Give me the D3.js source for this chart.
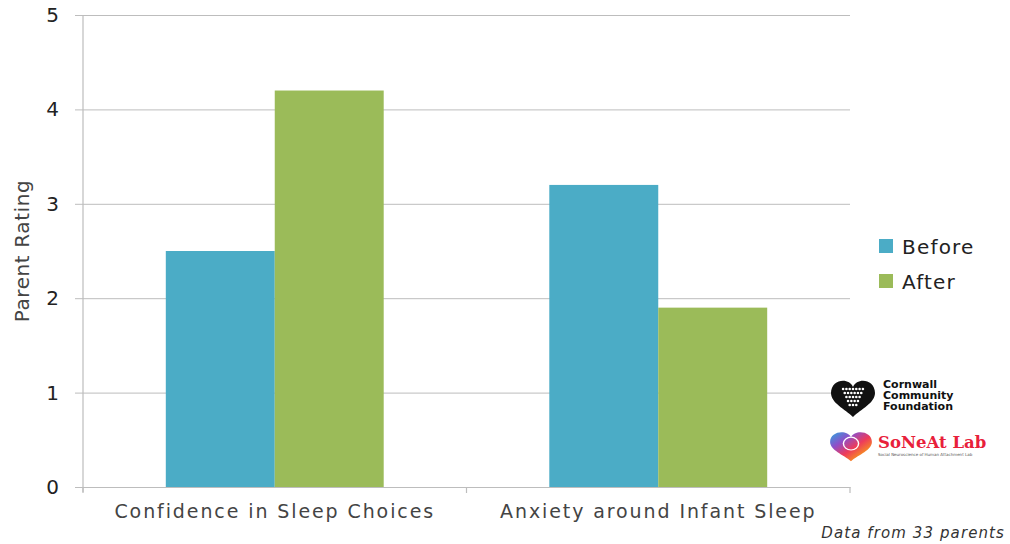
<!DOCTYPE html>
<html>
<head>
<meta charset="utf-8">
<script src="https://cdn.jsdelivr.net/npm/d3@7"></script>
<style>
  html, body { margin: 0; padding: 0; background: #fff; }
  svg { display: block; }
</style>
</head>
<body>
<svg id="chart" width="1010" height="544"></svg>
<script>
// Survey results: parent ratings before and after the sessions
const categories = ["Confidence in Sleep Choices", "Anxiety around Infant Sleep"];
const seriesNames = ["Before", "After"];
const beforeValues = [2.5, 3.2];
const afterValues = [4.2, 1.9];
const yTicks = [0, 1, 2, 3, 4, 5];
const colors = ["#4BACC6", "#9BBB59"];

const svg = d3.select("#chart");
const plotLeft = 83, plotRight = 850, plotTop = 15, plotBottom = 487;

const x = d3.scaleBand().domain(categories).range([plotLeft, plotRight]).paddingInner(0).paddingOuter(0);
const inner = d3.scaleBand().domain(seriesNames).range([0, x.bandwidth()]).paddingInner(0).paddingOuter(0.76);
const y = d3.scaleLinear().domain([0, 5]).range([plotBottom, plotTop]);

const labelFont = "'DejaVu Sans', sans-serif";

// Horizontal gridlines with small outer ticks
const yAxis = d3.axisLeft(y).tickValues(yTicks).tickSize(-(plotRight - plotLeft)).tickPadding(24).tickFormat(d3.format("d"));
const gy = svg.append("g").attr("transform", `translate(${plotLeft},0)`).call(yAxis);
gy.select(".domain").remove();
gy.selectAll(".tick line").attr("stroke", "#bdbdbd").attr("stroke-width", 1).attr("x1", -8);
gy.selectAll(".tick text").attr("fill", "#222").style("font-family", labelFont).style("font-size", "20px");

// Vertical axis line
svg.append("line").attr("x1", plotLeft).attr("x2", plotLeft).attr("y1", plotTop).attr("y2", plotBottom + 5)
  .attr("stroke", "#bdbdbd").attr("stroke-width", 1.2);

// Bars
const rows = categories.map((c, i) => ({ cat: c, vals: [beforeValues[i], afterValues[i]] }));
const groups = svg.append("g").selectAll("g").data(rows).join("g")
  .attr("transform", d => `translate(${x(d.cat)},0)`);
groups.selectAll("rect").data(d => d.vals.map((v, j) => ({ key: seriesNames[j], v, j })))
  .join("rect")
  .attr("x", d => inner(d.key))
  .attr("width", inner.bandwidth())
  .attr("y", d => y(d.v))
  .attr("height", d => y(0) - y(d.v))
  .attr("fill", d => colors[d.j]);

// Category axis
const xAxis = d3.axisBottom(x).tickSize(0).tickPadding(18);
const gx = svg.append("g").attr("transform", `translate(0,${plotBottom})`).call(xAxis);
gx.select(".domain").attr("stroke", "#bdbdbd").attr("stroke-width", 1.2);
gx.selectAll(".tick text").attr("fill", "#444").style("font-family", labelFont).style("font-size", "19px")
  .style("letter-spacing", "1.9px");
// Boundary ticks between categories
const bounds = [plotLeft, plotLeft + x.bandwidth(), plotRight];
svg.append("g").selectAll("line").data(bounds).join("line")
  .attr("x1", d => d).attr("x2", d => d).attr("y1", plotBottom).attr("y2", plotBottom + 6)
  .attr("stroke", "#bdbdbd").attr("stroke-width", 1.2);

// Y axis title
svg.append("text")
  .attr("transform", "translate(29,251) rotate(-90)")
  .attr("text-anchor", "middle")
  .attr("fill", "#444")
  .style("font-family", labelFont).style("font-size", "20px").style("letter-spacing", "0.6px")
  .text("Parent Rating");

// Legend
const legend = svg.append("g").attr("transform", "translate(879,239)");
seriesNames.forEach((s, i) => {
  const g = legend.append("g").attr("transform", `translate(0,${i * 35})`);
  g.append("rect").attr("width", 14).attr("height", 14).attr("fill", colors[i]);
  g.append("text").attr("x", 23).attr("y", 15).attr("fill", "#222")
    .style("font-family", labelFont).style("font-size", "20px").style("letter-spacing", "1.2px").text(s);
});

// Cornwall Community Foundation mark
const heart = "M0,-6 C-4,-16 -22,-14 -22,0 C-22,10 -8,16 0,24 C8,16 22,10 22,0 C22,-14 4,-16 0,-6 Z";
const ccf = svg.append("g").attr("transform", "translate(853,393)");
ccf.append("path").attr("d", heart).attr("fill", "#111");
const dotRows = [[-9,-6,-3,0,3,6,9],[-7.5,-4.5,-1.5,1.5,4.5,7.5],[-6,-3,0,3,6],[-4.5,-1.5,1.5,4.5],[-3,0,3]];
dotRows.forEach((r, ri) => r.forEach(dx => {
  ccf.append("circle").attr("cx", dx * 1.1).attr("cy", -4 + ri * 4).attr("r", 1.3).attr("fill", "#fff");
}));
["Cornwall", "Community", "Foundation"].forEach((t, i) => {
  svg.append("text").attr("x", 883).attr("y", 388 + i * 11).attr("fill", "#111")
    .style("font-family", "'DejaVu Sans', sans-serif").style("font-size", "11px").style("font-weight", "bold")
    .text(t);
});

// SoNeAt Lab mark
const defs = svg.append("defs");
const grad = defs.append("linearGradient").attr("id", "rainbow").attr("x1", "0").attr("x2", "1").attr("y1", "0").attr("y2", "1");
[["0", "#2aa7e0"], ["0.3", "#8e4fc9"], ["0.55", "#ee3b5b"], ["0.8", "#f7941d"], ["1", "#ffd400"]]
  .forEach(([o, c]) => grad.append("stop").attr("offset", o).attr("stop-color", c));
const sl = svg.append("g").attr("transform", "translate(851,442) scale(0.95,0.8)");
sl.append("path").attr("d", heart).attr("fill", "url(#rainbow)");
sl.append("circle").attr("cx", 0).attr("cy", 2).attr("r", 8).attr("fill", "none").attr("stroke", "#fff").attr("stroke-width", 1.5);
svg.append("text").attr("x", 878).attr("y", 448).attr("fill", "#e8203a")
  .style("font-family", "'DejaVu Serif', serif").style("font-size", "16.5px").style("font-weight", "bold")
  .text("SoNeAt Lab");
svg.append("text").attr("x", 878).attr("y", 456).attr("fill", "#555")
  .style("font-family", "'DejaVu Sans', sans-serif").style("font-size", "4px")
  .text("Social Neuroscience of Human Attachment Lab");

// Footnote
svg.append("text").attr("x", 1005).attr("y", 538).attr("text-anchor", "end").attr("fill", "#333")
  .style("font-family", labelFont).style("font-size", "15px").style("font-style", "italic")
  .style("letter-spacing", "1.1px")
  .text("Data from 33 parents");
</script>
</body>
</html>
